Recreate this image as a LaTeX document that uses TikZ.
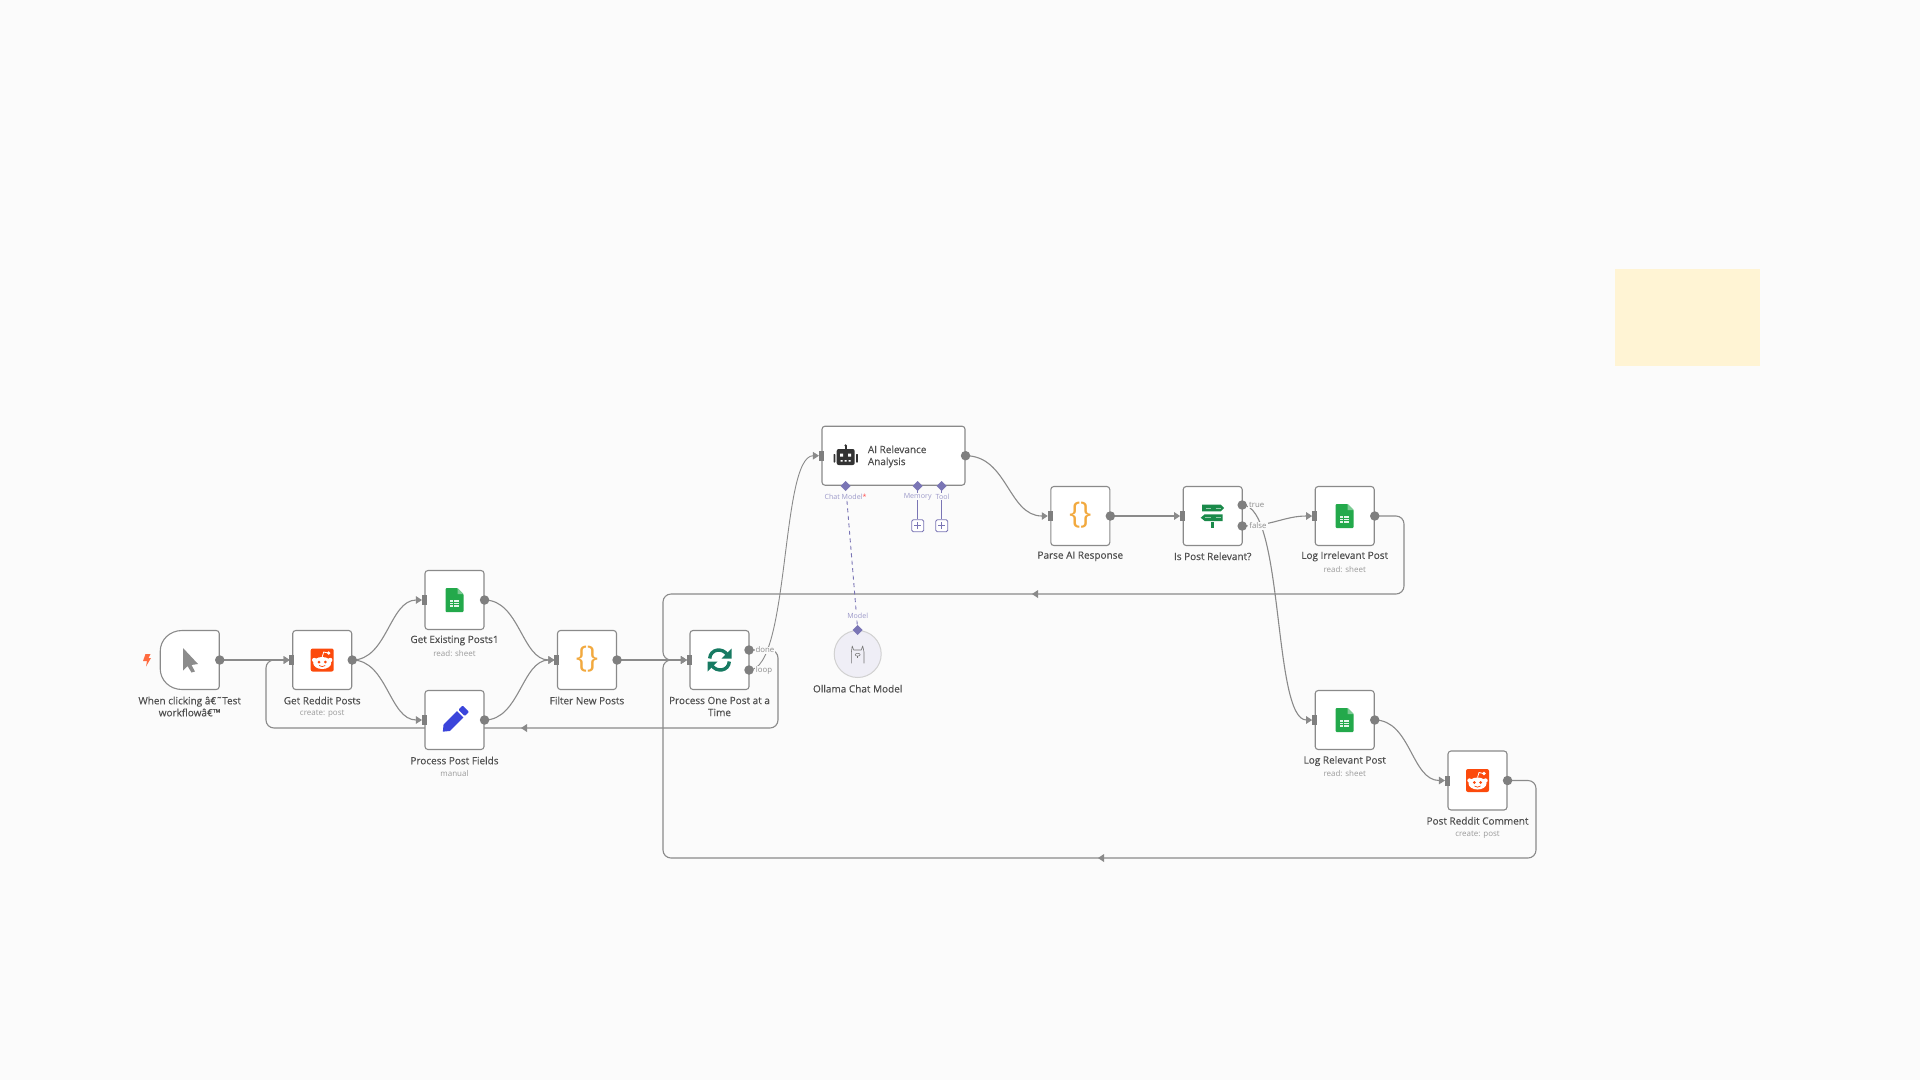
\documentclass[tikz,border=0pt]{standalone}
\usepackage{fontspec}
\setmainfont{Open Sans}
\newfontfamily\semib[FakeBold=0.35]{Open Sans}
\usetikzlibrary{arrows.meta,shapes.geometric}
\definecolor{bgc}{HTML}{FBFBFB}
\definecolor{edgec}{HTML}{8A8A8A}
\definecolor{portc}{HTML}{7F7F7F}
\definecolor{namec}{HTML}{4F4F4F}
\definecolor{subc}{HTML}{9A9A9A}
\definecolor{purp}{HTML}{7A75B5}
\definecolor{purpt}{HTML}{9B98C8}
\definecolor{sheetc}{HTML}{23A94B}
\definecolor{redd}{HTML}{FC4A0C}
\definecolor{bracec}{HTML}{F2A93E}
\definecolor{syncc}{HTML}{177A62}
\definecolor{signc}{HTML}{1A8A4A}
\definecolor{penc}{HTML}{3B45DB}
\definecolor{stick}{HTML}{FFF4D4}
\tikzset{
  box/.style={draw=edgec,fill=white,line width=1.1pt,rounded corners=3pt,minimum width=59pt,minimum height=59pt,inner sep=0pt},
  wire/.style={draw=edgec,line width=1.1pt,-{Triangle[length=6pt,width=7.5pt]},shorten >=2.5pt},
  backwire/.style={wire,rounded corners=8pt},
  nametext/.style={font=\semib\fontsize{10}{12}\selectfont,text=namec,align=center,inner sep=0pt},
  subtext/.style={font=\fontsize{8}{9}\selectfont,text=subc,inner sep=0pt},
  porttext/.style={font=\fontsize{7.8}{9}\selectfont,text=black!45,inner xsep=1pt,inner ysep=.5pt,fill=bgc},
  purptext/.style={font=\fontsize{7.1}{9}\selectfont,text=purpt,inner xsep=.5pt,inner ysep=.5pt,fill=bgc},
  outdot/.style={circle,fill=portc,minimum size=9.5pt,inner sep=0pt},
  plusbox/.style={draw=purp,fill=white,line width=.9pt,rounded corners=1.5pt,minimum size=12pt,inner sep=0pt},
}
\newcommand{\inport}[1]{\fill[portc] ([xshift=-2.7pt,yshift=-5pt]#1.west) rectangle ([xshift=2.3pt,yshift=5pt]#1.west);}
\newcommand{\outport}[1]{\node[outdot] at (#1.east) {};}
\newcommand{\sheeticon}[2]{\begin{scope}[shift={(#1,#2)}]
  \fill[sheetc,rounded corners=1pt] (-9,-12) -- (3,-12) -- (9,-6) -- (9,12) -- (-9,12) -- cycle;
  \fill[sheetc!60!white] (3,-12) -- (9,-6) -- (3,-6) -- cycle;
  \fill[white!88!sheetc] (-4.5,-0.5) rectangle (4.5,6.5);
  \draw[sheetc,line width=.6pt] (-4.5,2) -- (4.5,2) (-4.5,4.3) -- (4.5,4.3) (-1.5,-.5) -- (-1.5,6.5);
\end{scope}}
\newcommand{\redditicon}[2]{\begin{scope}[shift={(#1,#2)}]
  \fill[redd,rounded corners=2pt] (-11.5,-11.5) rectangle (11.5,11.5);
  \fill[white] (0,3) ellipse (9 and 6);
  \fill[white] (-8,0) circle (2.2) (8,0) circle (2.2);
  \draw[white,line width=.8pt] (0,-3) -- (1.5,-8) -- (6,-7);
  \fill[white] (6.5,-7) circle (1.8);
  \fill[redd] (-3.2,2) circle (1.5) (3.2,2) circle (1.5);
  \draw[redd,line width=.7pt] (-3,5.5) .. controls (-1.5,7) and (1.5,7) .. (3,5.5);
\end{scope}}
\newcommand{\braceicon}[2]{\node[inner sep=0pt,text=bracec,font=\fontsize{30}{30}\selectfont] at (#1,#2-0.5) {\{\kern-0.5pt\}};}
\begin{document}
\begin{tikzpicture}[x=1pt,y=-1pt]
\useasboundingbox (0,0) rectangle (1920,1080);
\fill[bgc] (0,0) rectangle (1920,1080);
\fill[stick] (1615,269) rectangle (1760,366);
% invisible placement of nodes first
\path[draw=none]
 node[box,draw=none,fill=none] (tr) at (189.7,660) {}
 node[box,draw=none,fill=none] (rd) at (322.2,660) {}
 node[box,draw=none,fill=none] (ge) at (454.5,600) {}
 node[box,draw=none,fill=none] (pf) at (454.5,720) {}
 node[box,draw=none,fill=none] (fn) at (587,660) {}
 node[box,draw=none,fill=none] (lp) at (719.5,660) {}
 node[box,draw=none,fill=none,minimum width=143pt] (ai) at (893.5,455.7) {}
 node[box,draw=none,fill=none] (pa) at (1080.3,516) {}
 node[box,draw=none,fill=none] (ip) at (1212.7,516) {}
 node[box,draw=none,fill=none] (li) at (1344.7,516) {}
 node[box,draw=none,fill=none] (lr) at (1344.7,720) {}
 node[box,draw=none,fill=none] (pc) at (1477.5,780.5) {};
\coordinate (lpdone) at (749,650);
\coordinate (lploop) at (749,670);
\coordinate (iptrue) at (1242.2,505);
\coordinate (ipfalse) at (1242.2,526);
% wires
\draw[wire] (tr.east) -- (rd.west);
\draw[wire] (rd.east) to[out=0,in=180,distance=35pt] (ge.west);
\draw[wire] (rd.east) to[out=0,in=180,distance=35pt] (pf.west);
\draw[wire] (ge.east) to[out=0,in=180,distance=35pt] (fn.west);
\draw[wire] (pf.east) to[out=0,in=180,distance=35pt] (fn.west);
\draw[wire] (fn.east) -- (lp.west);
\draw[wire,line width=.9pt] (lploop) to[out=0,in=180,distance=41pt] (ai.west);
\draw[wire] (ai.east) to[out=0,in=180,distance=42pt] (pa.west);
\draw[wire] (pa.east) -- (ip.west);
\draw[wire] (ipfalse) to[out=0,in=180,distance=30pt] (li.west);
\draw[wire] (iptrue) to[out=0,in=180,distance=42pt] (lr.west);
\draw[wire] (lr.east) to[out=0,in=180,distance=36pt] (pc.west);
% returning wires
\coordinate (a1) at (778,650); \coordinate (a2) at (778,728); \coordinate (a3) at (266,728); \coordinate (a4) at (266,660);
\draw[backwire] (lpdone) -- (a1) -- (a2) -- (a3) -- (a4) -- (rd.west);
\coordinate (b1) at (1404,516); \coordinate (b2) at (1404,594); \coordinate (b3) at (663,594); \coordinate (b4) at (663,660);
\draw[backwire] (li.east) -- (b1) -- (b2) -- (b3) -- (b4) -- (lp.west);
\coordinate (c1) at (1536,780.5); \coordinate (c2) at (1536,858); \coordinate (c3) at (663,858); \coordinate (c4) at (663,660);
\draw[backwire] (pc.east) -- (c1) -- (c2) -- (c3) -- (c4) -- (lp.west);
\fill[edgec] (521,728) -- (527,724) -- (527,732) -- cycle;
\fill[edgec] (1032,594) -- (1038,590) -- (1038,598) -- cycle;
\fill[edgec] (1098,858) -- (1104,854) -- (1104,862) -- cycle;
% boxes drawn above wires
\draw[draw=edgec,fill=white,line width=1.1pt] (216.2,630.5) .. controls (218,630.5) and (219.2,631.7) .. (219.2,633.5) -- (219.2,686.5) .. controls (219.2,688.3) and (218,689.5) .. (216.2,689.5) -- (182,689.5) .. controls (170,689.5) and (160.2,680.5) .. (160.2,668.5) -- (160.2,651.5) .. controls (160.2,639.5) and (170,630.5) .. (182,630.5) -- cycle;
\node[box] (rdb) at (rd) {};
\node[box] (geb) at (ge) {};
\node[box] (pfb) at (pf) {};
\node[box] (fnb) at (fn) {};
\node[box] (lpb) at (lp) {};
\node[box,minimum width=143pt] (aib) at (ai) {};
\node[box] (pab) at (pa) {};
\node[box] (ipb) at (ip) {};
\node[box] (lib) at (li) {};
\node[box] (lrb) at (lr) {};
\node[box] (pcb) at (pc) {};
% ports
\foreach \n in {rd,ge,pf,fn,lp,ai,pa,ip,li,lr,pc}{\inport{\n}}
\foreach \n in {tr,rd,ge,pf,fn,ai,pa,li,lr,pc}{\outport{\n}}
\node[outdot] at (lpdone) {}; \node[outdot] at (lploop) {};
\node[outdot] at (iptrue) {}; \node[outdot] at (ipfalse) {};
% AI sub ports
\coordinate (dm) at (845.7,486); \coordinate (dmem) at (917.7,486); \coordinate (dtool) at (941.7,486);
\node[plusbox] (pmem) at (917.7,525.7) {};
\node[plusbox] (ptool) at (941.7,525.7) {};
\foreach \q in {pmem,ptool}{\draw[purp,line width=.8pt] ([xshift=-3.5pt]\q.center) -- ([xshift=3.5pt]\q.center) ([yshift=-3.5pt]\q.center) -- ([yshift=3.5pt]\q.center);}
\draw[purp,line width=.9pt] (dmem) -- (pmem.north);
\draw[purp,line width=.9pt] (dtool) -- (ptool.north);
% Ollama
\node[circle,draw=black!18,fill=purp!12,line width=1pt,minimum size=47pt,inner sep=0pt] (ol) at (857.7,654) {};
\coordinate (dol) at (857.7,630);
\draw[purp,line width=.9pt,dash pattern=on 4pt off 3.5pt] (dm) -- (dol);
\foreach \p in {dm,dmem,dtool,dol}{\fill[purp] (\p) ++(0,-5) -- ++(5,5) -- ++(-5,5) -- ++(-5,-5) -- cycle;}
% llama
\begin{scope}[shift={(857.7,654)}]
 \draw[black!55,line width=.6pt,line join=round] (-6.3,9.3) -- (-6.3,-2) -- (-5.5,-8) -- (-4,-4) -- (3.5,-4) -- (5,-8) -- (6.3,-2) -- (6.3,9.3);
 \draw[black!55,line width=.5pt] (0,.7) ellipse (2.5 and 1.4);
 \draw[black!55,line width=.5pt] (0,2) -- (0,4);
\end{scope}
% cursor
\fill[black!45,line join=round] (183,648) -- (198,664) -- (191.5,665) -- (195,671.5) -- (191.5,672.5) -- (187.5,666) -- (183,670.5) -- cycle;
% bolt
\fill[red!55!orange!75] (145.5,654) -- (150.5,654) -- (148.6,658) -- (151,658) -- (146,666.5) -- (147,661) -- (143,661) -- cycle;
% icons
\redditicon{322.2}{660}
\redditicon{1477.5}{780.5}
\sheeticon{454.5}{600}
\sheeticon{1344.7}{516}
\sheeticon{1344.7}{720}
\braceicon{587}{660}
\braceicon{1080.3}{516}
% pencil
\begin{scope}[shift={(454.5,720)},rotate=45]
 \fill[penc] (-16.5,0) -- (-11,-4.5) -- (8,-4.5) -- (8,4.5) -- (-11,4.5) -- cycle;
 \fill[penc,rounded corners=1pt] (10,-4.5) rectangle (16,4.5);
\end{scope}
% sync
\begin{scope}[shift={(719.5,660)}]
 \draw[syncc,line width=3.4pt] (-9.8,-1.5) .. controls (-9.3,-11) and (3,-13) .. (8,-5);
 \fill[syncc] (12,-11.5) -- (12,-1.5) -- (2,-1.5) -- cycle;
 \draw[syncc,line width=3.4pt] (9.8,1.5) .. controls (9.3,11) and (-3,13) .. (-8,5);
 \fill[syncc] (-12,11.5) -- (-12,1.5) -- (-2,1.5) -- cycle;
\end{scope}
% robot
\begin{scope}[shift={(845.7,456)}]
 \fill[black!80,rounded corners=2pt] (-9,-7) rectangle (9,9);
 \fill[black!80] (-1,-10.5) rectangle (1,-7);
 \fill[black!80] (0,-10.5) circle (1.3);
 \fill[black!80,rounded corners=.6pt] (-12.2,-2) rectangle (-10.4,6.5) (10.4,-2) rectangle (12.2,6.5);
 \fill[white] (-5.5,-2.5) rectangle (-2.5,.5) (2.5,-2.5) rectangle (5.5,.5);
 \fill[white] (-5,4) rectangle (-3,5.5) (-1,4) rectangle (1,5.5) (3,4) rectangle (5,5.5);
\end{scope}
% signpost
\begin{scope}[shift={(1212.7,516)}]
 \fill[signc] (-10.5,-11.5) -- (8,-11.5) -- (11.5,-8) -- (8,-4.7) -- (-10.5,-4.7) -- cycle;
 \fill[signc] (-8,-1.7) -- (10,-1.7) -- (10,5) -- (-8,5) -- (-12,1.7) -- cycle;
 \fill[signc] (-1.5,6) rectangle (1.5,11.8);
 \draw[white,opacity=.55,line width=.5pt] (-7,-8) -- (-2,-8) (3,-8) -- (8,-8) (-8,1.7) -- (-2,1.7) (3,1.7) -- (8,1.7);
\end{scope}
% labels
\node[nametext] (ltr) at (189.7,706.5) {When clicking â€˜Test\\workflowâ€™};
\node[nametext] (lrd) at (322.2,700.5) {Get Reddit Posts};
\node[subtext] (srd) at (322.2,713.7) {create: post};
\node[nametext] (lge) at (454.5,640.5) {Get Existing Posts1};
\node[subtext] (sge) at (454.5,653.3) {read: sheet};
\node[nametext] (lpf) at (454.5,760.5) {Process Post Fields};
\node[subtext] (spf) at (454.5,773.5) {manual};
\node[nametext] (lfn) at (587,700.5) {Filter New Posts};
\node[nametext] (llp) at (719.5,706.5) {Process One Post at a\\Time};
\node[nametext] (lol) at (857.7,688.7) {Ollama Chat Model};
\node[nametext,anchor=west,align=left] (lai) at (867.7,456.5) {AI Relevance\\Analysis};
\node[nametext] (lpa) at (1080.3,556.3) {Parse AI Response};
\node[nametext] (lip) at (1212.7,556.3) {Is Post Relevant?};
\node[nametext] (lli) at (1344.7,556.3) {Log Irrelevant Post};
\node[subtext] (sli) at (1344.7,569.3) {read: sheet};
\node[nametext] (llr) at (1344.7,761) {Log Relevant Post};
\node[subtext] (slr) at (1344.7,773.5) {read: sheet};
\node[nametext] (lpc) at (1477.5,820.8) {Post Reddit Comment};
\node[subtext] (spc) at (1477.5,834.5) {create: post};
\node[porttext] (tdone) at (765,650) {done};
\node[porttext] (tloop) at (764,670) {loop};
\node[porttext] (ttrue) at (1256.7,505) {true};
\node[porttext] (tfalse) at (1258,526) {false};
\node[purptext] (tchat) at (845.5,496.5) {Chat Model\textcolor{red!70}{*}};
\node[purptext] (tmem) at (917.7,496.5) {Memory};
\node[purptext] (ttool) at (942.5,496.5) {Tool};
\node[purptext] (tmodel) at (857.7,616.3) {Model};
\end{tikzpicture}
\end{document}
